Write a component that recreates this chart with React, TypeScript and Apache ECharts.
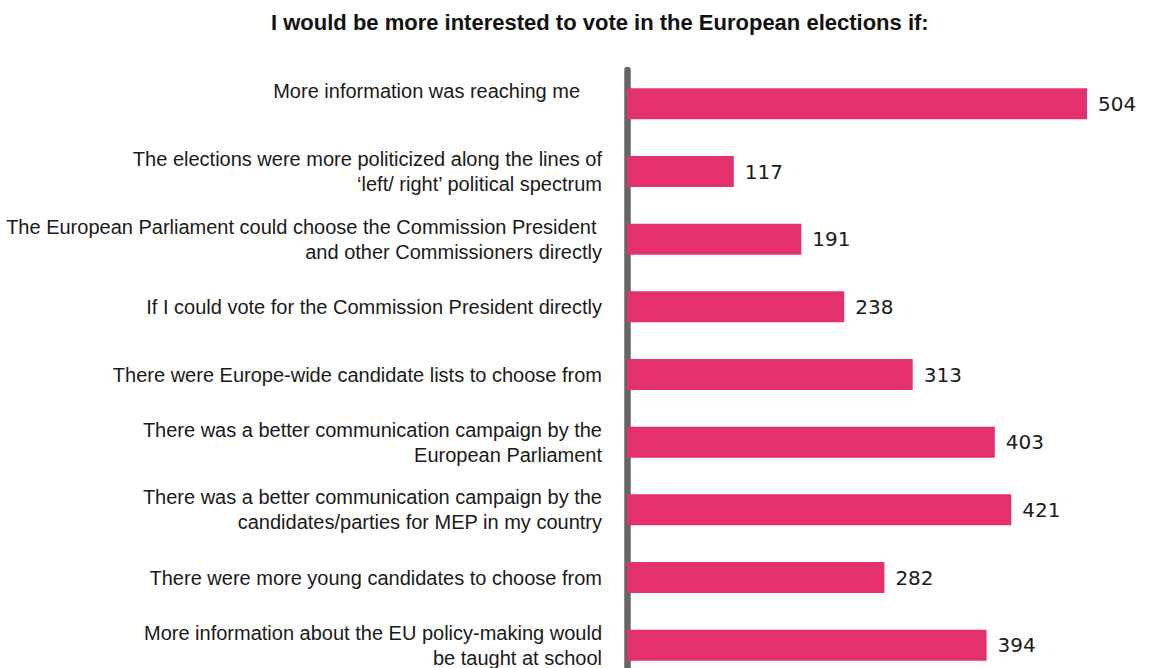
import React, { useEffect, useRef } from "react";
import * as echarts from "echarts";

const titleText = "I would be more interested to vote in the European elections if:";

const categories = [
  "More information was reaching me",
  "The elections were more politicized along the lines of\n\u2018left/ right\u2019 political spectrum",
  "The European Parliament could choose the Commission President\u00a0\nand other Commissioners directly",
  "If I could vote for the Commission President directly",
  "There were Europe-wide candidate lists to choose from",
  "There was a better communication campaign by the\nEuropean Parliament",
  "There was a better communication campaign by the\ncandidates/parties for MEP in my country",
  "There were more young candidates to choose from",
  "More information about the EU policy-making would\nbe taught at school",
];

const values = [504, 117, 191, 238, 313, 403, 421, 282, 394];

const xMax = 550;

export default function App() {
  const ref = useRef<HTMLDivElement>(null);

  useEffect(() => {
    if (!ref.current) return;
    const chart = echarts.init(ref.current, null, { renderer: "svg" });
    chart.setOption({
      animation: false,
      backgroundColor: "#ffffff",
      title: {
        text: titleText,
        left: 271,
        top: 11,
        padding: 0,
        textStyle: {
          fontFamily: "Liberation Sans",
          fontSize: 22,
          fontWeight: "bold",
          color: "#111111",
        },
      },
      grid: {
        left: 627,
        top: 70,
        width: 502,
        height: 609,
        containLabel: false,
      },
      xAxis: {
        type: "value",
        min: 0,
        max: xMax,
        show: false,
      },
      yAxis: {
        type: "category",
        data: categories,
        inverse: true,
        axisLine: { show: true, lineStyle: { color: "#666666", width: 6.5 } },
        axisTick: { show: false },
        splitLine: { show: false },
        axisLabel: {
          margin: 25,
          fontFamily: "Liberation Sans",
          fontSize: 20,
          lineHeight: 25,
          color: "#1a1a1a",
          align: "right",
          formatter: (v: string, i: number) =>
            i === 0 ? "{p|" + v + "}\n " : v,
          rich: {
            p: {
              fontFamily: "Liberation Sans",
              fontSize: 20,
              lineHeight: 25,
              color: "#1a1a1a",
              padding: [0, 22, 0, 0],
            },
          },
        },
      },
      series: [
        {
          type: "bar",
          data: values,
          barWidth: 31,
          itemStyle: { color: "#E5306F" },
          label: {
            show: true,
            position: "right",
            distance: 11,
            fontFamily: "DejaVu Sans",
            fontSize: 20,
            color: "#1a1a1a",
          },
        },
      ],
    });
    return () => chart.dispose();
  }, []);

  return (
    <div
      style={{
        position: "absolute",
        left: 0,
        top: 0,
        width: 1150,
        height: 668,
        overflow: "hidden",
        background: "#ffffff",
      }}
    >
      <div ref={ref} style={{ width: 1150, height: 700 }} />
    </div>
  );
}
